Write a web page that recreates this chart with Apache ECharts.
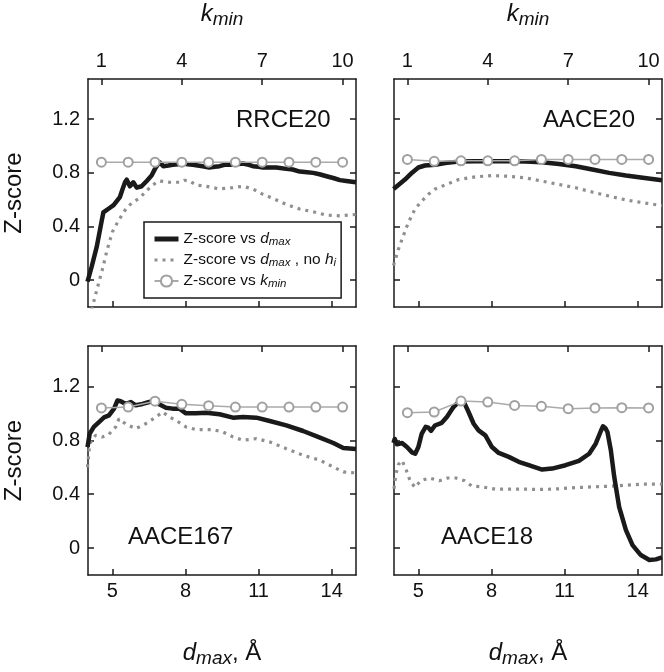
<!DOCTYPE html>
<html><head><meta charset="utf-8">
<script src="https://cdn.jsdelivr.net/npm/echarts@6/dist/echarts.min.js"></script>
<style>html,body{margin:0;padding:0;background:#fff}#c{width:664px;height:672px}</style>
</head><body><div id="c"></div>
<script>
// ---------- data ----------
const panelNames = ['RRCE20', 'AACE20', 'AACE167', 'AACE18'];
const kminValues = [1, 2, 3, 4, 5, 6, 7, 8, 9, 10];
const dmaxTicks = [5, 8, 11, 14];
const kminTicks = [1, 4, 7, 10];
const zTicks = [0, 0.4, 0.8, 1.2];

// [dmax, Z-score]
const RRCE20_dmax = [[3.98,-0.01],[4.15,0.10],[4.36,0.25],[4.56,0.44],[4.63,0.505],[4.9,0.54],[5.05,0.56],[5.18,0.59],[5.31,0.62],[5.42,0.68],[5.52,0.73],[5.59,0.75],[5.72,0.70],[5.86,0.73],[6.0,0.69],[6.2,0.70],[6.41,0.74],[6.61,0.78],[6.75,0.83],[6.93,0.88],[7.09,0.85],[7.3,0.855],[7.47,0.86],[7.7,0.865],[7.88,0.87],[8.1,0.865],[8.3,0.86],[8.5,0.855],[8.71,0.85],[8.98,0.84],[9.2,0.845],[9.4,0.85],[9.6,0.86],[9.81,0.86],[10.1,0.865],[10.36,0.87],[10.6,0.86],[10.77,0.85],[11.0,0.845],[11.18,0.84],[11.5,0.84],[11.73,0.84],[12.14,0.83],[12.4,0.825],[12.69,0.81],[13.0,0.805],[13.24,0.80],[13.5,0.79],[13.79,0.775],[14.1,0.76],[14.34,0.746],[14.6,0.74],[15.0,0.73]];
const RRCE20_noh = [[4.15,-0.22],[4.38,-0.06],[4.59,0.08],[4.79,0.23],[5.0,0.36],[5.27,0.45],[5.55,0.53],[5.82,0.58],[6.10,0.61],[6.37,0.66],[6.65,0.71],[6.92,0.74],[7.34,0.73],[7.75,0.73],[7.95,0.745],[8.16,0.74],[8.43,0.71],[8.85,0.70],[9.40,0.68],[9.95,0.69],[10.36,0.70],[10.77,0.68],[11.18,0.64],[11.59,0.61],[12.14,0.565],[12.69,0.53],[13.24,0.51],[13.79,0.485],[14.34,0.48],[15.0,0.49]];
const RRCE20_kmin = [0.88, 0.88, 0.88, 0.88, 0.88, 0.88, 0.88, 0.88, 0.88, 0.88];

const AACE20_dmax = [[3.98,0.68],[4.18,0.71],[4.45,0.75],[4.73,0.80],[5.0,0.84],[5.27,0.855],[5.69,0.86],[6.10,0.874],[6.65,0.884],[7.34,0.886],[8.02,0.886],[8.71,0.886],[9.40,0.884],[10.08,0.879],[10.77,0.867],[11.46,0.85],[12.14,0.825],[12.83,0.80],[13.52,0.78],[14.21,0.763],[15.0,0.745]];
const AACE20_noh = [[3.98,0.11],[4.18,0.23],[4.38,0.33],[4.59,0.43],[4.86,0.53],[5.14,0.59],[5.41,0.64],[5.69,0.68],[6.10,0.71],[6.65,0.75],[7.34,0.77],[8.02,0.78],[8.71,0.775],[9.40,0.763],[10.08,0.738],[10.77,0.714],[11.46,0.689],[12.14,0.657],[12.83,0.627],[13.52,0.598],[14.21,0.578],[15.0,0.556]];
const AACE20_kmin = [0.90, 0.886, 0.89, 0.89, 0.89, 0.90, 0.90, 0.90, 0.90, 0.90];

const AACE167_dmax = [[3.98,0.75],[4.07,0.85],[4.24,0.90],[4.45,0.935],[4.66,0.97],[4.86,0.985],[5.07,1.035],[5.21,1.096],[5.34,1.09],[5.55,1.07],[5.76,1.084],[5.96,1.06],[6.24,1.07],[6.51,1.084],[6.72,1.09],[6.92,1.067],[7.20,1.042],[7.47,1.035],[7.75,1.035],[8.02,1.0],[8.43,1.0],[8.85,1.005],[9.40,0.993],[9.95,0.968],[10.36,0.973],[10.91,0.968],[11.46,0.943],[12.14,0.911],[12.83,0.869],[13.52,0.82],[14.07,0.78],[14.48,0.743],[15.0,0.736]];
const AACE167_noh = [[3.98,0.60],[4.07,0.775],[4.31,0.837],[4.59,0.825],[4.86,0.845],[5.14,0.90],[5.27,0.96],[5.55,0.92],[5.96,0.886],[6.37,0.923],[6.79,0.973],[7.06,1.01],[7.34,0.973],[7.61,0.948],[8.02,0.899],[8.43,0.879],[9.12,0.879],[9.53,0.862],[9.95,0.825],[10.36,0.80],[10.91,0.812],[11.46,0.788],[12.14,0.738],[12.83,0.689],[13.52,0.652],[14.07,0.602],[14.48,0.565],[15.0,0.558]];
const AACE167_kmin = [1.04, 1.047, 1.09, 1.067, 1.057, 1.047, 1.047, 1.047, 1.047, 1.047];

const AACE18_dmax = [[3.98,0.78],[4.03,0.81],[4.12,0.77],[4.33,0.78],[4.53,0.75],[4.74,0.71],[4.87,0.70],[5.0,0.75],[5.14,0.85],[5.21,0.86],[5.30,0.90],[5.41,0.894],[5.52,0.87],[5.68,0.91],[5.96,0.93],[6.17,0.973],[6.44,1.047],[6.72,1.096],[6.90,1.072],[7.06,1.01],[7.27,0.923],[7.47,0.874],[7.75,0.837],[8.02,0.75],[8.30,0.706],[8.71,0.677],[9.12,0.64],[9.53,0.615],[10.08,0.583],[10.49,0.59],[11.04,0.615],[11.59,0.647],[12.01,0.70],[12.28,0.775],[12.49,0.869],[12.58,0.904],[12.68,0.89],[12.76,0.862],[12.90,0.726],[13.04,0.528],[13.24,0.306],[13.52,0.133],[13.79,0.022],[14.13,-0.052],[14.48,-0.089],[14.75,-0.084],[15.0,-0.069]];
const AACE18_noh = [[4.0,0.44],[4.08,0.55],[4.18,0.62],[4.33,0.65],[4.5,0.58],[4.66,0.50],[4.86,0.45],[5.1,0.50],[5.45,0.52],[5.86,0.50],[6.2,0.52],[6.55,0.52],[6.9,0.50],[7.2,0.46],[7.6,0.455],[8.16,0.437],[8.85,0.437],[9.4,0.437],[10.08,0.435],[10.77,0.44],[11.46,0.449],[12.14,0.454],[12.83,0.459],[13.52,0.467],[14.21,0.474],[15.0,0.474]];
const AACE18_kmin = [1.005, 1.01, 1.091, 1.084, 1.059, 1.052, 1.035, 1.04, 1.042, 1.04];

const fullData = [RRCE20_dmax, AACE20_dmax, AACE167_dmax, AACE18_dmax];
const nohData = [RRCE20_noh, AACE20_noh, AACE167_noh, AACE18_noh];
const kminData = [RRCE20_kmin, AACE20_kmin, AACE167_kmin, AACE18_kmin];

// ---------- layout / style ----------
const FONT = 'Liberation Sans, Arial, Helvetica, sans-serif';
const INK = '#1a1a1a';
const DOT = '#8f8f8f';
const grids = [
  {left: 88, top: 79, width: 268, height: 228},
  {left: 394, top: 79, width: 268, height: 228},
  {left: 88, top: 346, width: 268, height: 229},
  {left: 394, top: 346, width: 268, height: 229}
];
const labelPos = [
  {left: 236, top: 108}, {left: 543, top: 108},
  {left: 128, top: 525}, {left: 441, top: 525}
];
const NAME_FULL = 'Z-score vs dmax';
const NAME_NOH = 'Z-score vs dmax, no hi';
const NAME_K = 'Z-score vs kmin';

const lineAxis = {show: true, onZero: false, lineStyle: {color: INK, width: 1.5}};
const tickStyle = {color: INK, width: 1.5};
const labelStyle = {fontFamily: FONT, fontSize: 20, color: '#111'};
const subRich = {
  i: {fontFamily: FONT, fontStyle: 'italic', fontSize: 24, color: '#111'},
  s: {fontFamily: FONT, fontStyle: 'italic', fontSize: 19, color: '#111', padding: [10, 0, 0, 0]},
  n: {fontFamily: FONT, fontSize: 24, color: '#111'}
};

const xAxis = [], yAxis = [], series = [], title = [];
grids.forEach((g, i) => {
  const top = i < 2, left = i % 2 === 0;
  xAxis.push({
    type: 'value', gridIndex: i, position: 'bottom', min: 4, max: 15,
    axisLine: lineAxis,
    axisTick: {inside: true, length: 6, lineStyle: tickStyle, customValues: dmaxTicks},
    axisLabel: Object.assign({show: !top, margin: 6, customValues: dmaxTicks}, labelStyle),
    splitLine: {show: false},
    name: top ? '' : '{i|d}{s|max}{n|, Å}',
    nameLocation: 'middle', nameGap: 64,
    nameTextStyle: {rich: subRich}
  });
  xAxis.push({
    type: 'value', gridIndex: i, position: 'top', min: 0.5, max: 10.5,
    axisLine: lineAxis,
    axisTick: {inside: true, length: 6, lineStyle: tickStyle, customValues: kminTicks},
    axisLabel: Object.assign({show: top, margin: 8, customValues: kminTicks}, labelStyle),
    splitLine: {show: false},
    name: top ? '{i|k}{s|min}' : '',
    nameLocation: 'middle', nameGap: 50,
    nameTextStyle: {rich: subRich}
  });
  yAxis.push({
    type: 'value', gridIndex: i, position: 'left', min: -0.2, max: 1.5,
    axisLine: lineAxis,
    axisTick: {inside: true, length: 6, lineStyle: tickStyle, customValues: zTicks},
    axisLabel: Object.assign({show: left, margin: 8, customValues: zTicks}, labelStyle),
    splitLine: {show: false},
    name: left ? 'Z-score' : '',
    nameLocation: 'middle', nameGap: 62,
    nameTextStyle: {fontFamily: FONT, fontSize: 24, color: '#111'}
  });
  yAxis.push({
    type: 'value', gridIndex: i, position: 'right', min: -0.2, max: 1.5,
    axisLine: lineAxis,
    axisTick: {inside: true, length: 6, lineStyle: tickStyle, customValues: zTicks},
    axisLabel: {show: false},
    splitLine: {show: false}
  });
  series.push({
    name: NAME_FULL, type: 'line', xAxisIndex: 2 * i, yAxisIndex: 2 * i,
    data: fullData[i], symbol: 'none', smooth: false,
    lineStyle: {color: INK, width: 4.5, join: 'round'}, itemStyle: {color: INK}, z: 3
  });
  series.push({
    name: NAME_NOH, type: 'line', xAxisIndex: 2 * i, yAxisIndex: 2 * i,
    data: nohData[i], symbol: 'none',
    lineStyle: {color: DOT, width: 3.2, type: [3, 5], cap: 'butt'}, itemStyle: {color: DOT}, z: 2
  });
  series.push({
    name: NAME_K, type: 'line', xAxisIndex: 2 * i + 1, yAxisIndex: 2 * i,
    data: kminValues.map((k, j) => [k, kminData[i][j]]),
    symbol: 'emptyCircle', symbolSize: 9, showSymbol: true,
    lineStyle: {color: '#aaaaaa', width: 1.5},
    itemStyle: {color: '#a0a0a0', borderWidth: 1.5}, z: 4
  });
  title.push({
    text: panelNames[i], left: labelPos[i].left, top: labelPos[i].top, padding: 0,
    textStyle: {fontFamily: FONT, fontSize: 24, fontWeight: 'normal', color: '#111'}
  });
});

const legendText = {};
legendText[NAME_FULL] = '{n|Z-score vs }{i|d}{s|max}';
legendText[NAME_NOH] = '{n|Z-score vs }{i|d}{s|max}{n| , no }{i|h}{s|i}';
legendText[NAME_K] = '{n|Z-score vs }{i|k}{s|min}';

const option = {
  backgroundColor: '#fff',
  animation: false,
  title: title,
  grid: grids,
  xAxis: xAxis,
  yAxis: yAxis,
  series: series,
  legend: {
    data: [
      {name: NAME_FULL, itemStyle: {opacity: 0}, lineStyle: {width: 5, color: INK}},
      {name: NAME_NOH, itemStyle: {opacity: 0}, lineStyle: {width: 3.2, color: DOT, type: [3, 5]}},
      {name: NAME_K}
    ],
    orient: 'vertical', left: 144, top: 222,
    padding: [9, 5, 8, 8], itemGap: 4, itemWidth: 24, itemHeight: 14,
    borderColor: INK, borderWidth: 1.5, backgroundColor: '#fff',
    selectedMode: false,
    formatter: name => legendText[name],
    textStyle: {
      fontFamily: FONT, fontSize: 15.5, color: '#111',
      rich: {
        n: {fontFamily: FONT, fontSize: 15.5, color: '#111'},
        i: {fontFamily: FONT, fontSize: 15.5, fontStyle: 'italic', color: '#111'},
        s: {fontFamily: FONT, fontSize: 11.5, fontStyle: 'italic', color: '#111', padding: [6, 0, 0, 0]}
      }
    }
  }
};
const chart = echarts.init(document.getElementById('c'), null, {renderer: 'canvas'});
chart.setOption(option);
</script></body></html>
